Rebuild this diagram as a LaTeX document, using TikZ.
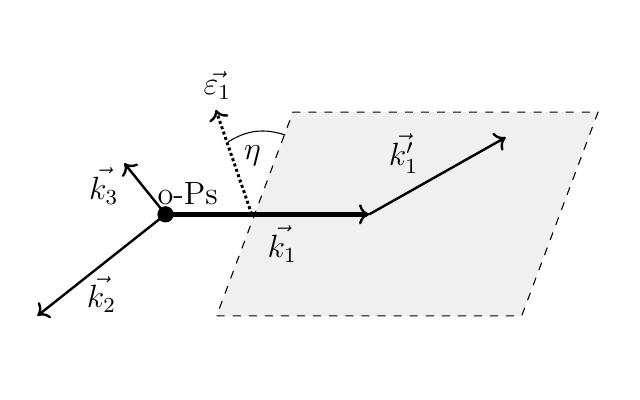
\documentclass[tikz,border=0pt]{standalone}
\usepackage{amsmath}
\usetikzlibrary{positioning,arrows.meta}
\tikzset{
  plane/.style={dashed,fill=black!6},
  bigtip/.style={-{Computer Modern Rightarrow[width=7.5pt,length=3.8pt,line width=0.9pt]}},
  photon/.style={bigtip,line width=0.9pt},
  lbl/.style={inner sep=0pt,font=\large}
}
\begin{document}
\begin{tikzpicture}
        \useasboundingbox (-2.84,-1.10) rectangle (5.55,4.14);
        \draw[plane] (0,0)--(4,0)--(5,2.67)--(1,2.67)--cycle;
        \coordinate (ps) at (-0.67,1.33);
        \coordinate (hit) at (0.46,1.33);
        \coordinate (kone) at (2,1.33);
        \coordinate (kprime) at (3.79,2.34);
        \coordinate (ktwo) at (-2.35,0);
        \coordinate (kthree) at (-1.21,2);
        \coordinate (eps) at (-0.01,2.7);
        \coordinate (arcstart) at (0.15,2.28);
        \coordinate (arcend) at (0.9,2.37);
        \draw[bigtip,line width=1.6pt] (ps)--(kone);
        \draw[photon] (kone)--(kprime);
        \draw[photon] (ps)--(ktwo);
        \draw[photon] (ps)--(kthree);
        \draw[bigtip,line width=1.1pt,densely dotted] (hit)--(eps);
        \draw (arcstart) to[bend left=25] (arcend);
        \node[draw,fill,circle,inner sep=2pt] (dot) at (ps) {};
        \node[lbl] (lps) at (-0.38,1.6) {o-Ps};
        \node[lbl] (lone) at (0.86,0.94) {$\vec{k_1}$};
        \node[lbl] (ltwo) at (-1.51,0.28) {$\vec{k_2}$};
        \node[lbl] (lthree) at (-1.48,1.7) {$\vec{k_3}$};
        \node[lbl] (lprime) at (2.45,2.13) {$\vec{k_1'}$};
        \node[lbl] (leps) at (0.01,3.02) {$\vec{\varepsilon_1}$};
        \node[lbl] (leta) at (0.47,2.1) {$\eta$};
      \end{tikzpicture}
\end{document}
